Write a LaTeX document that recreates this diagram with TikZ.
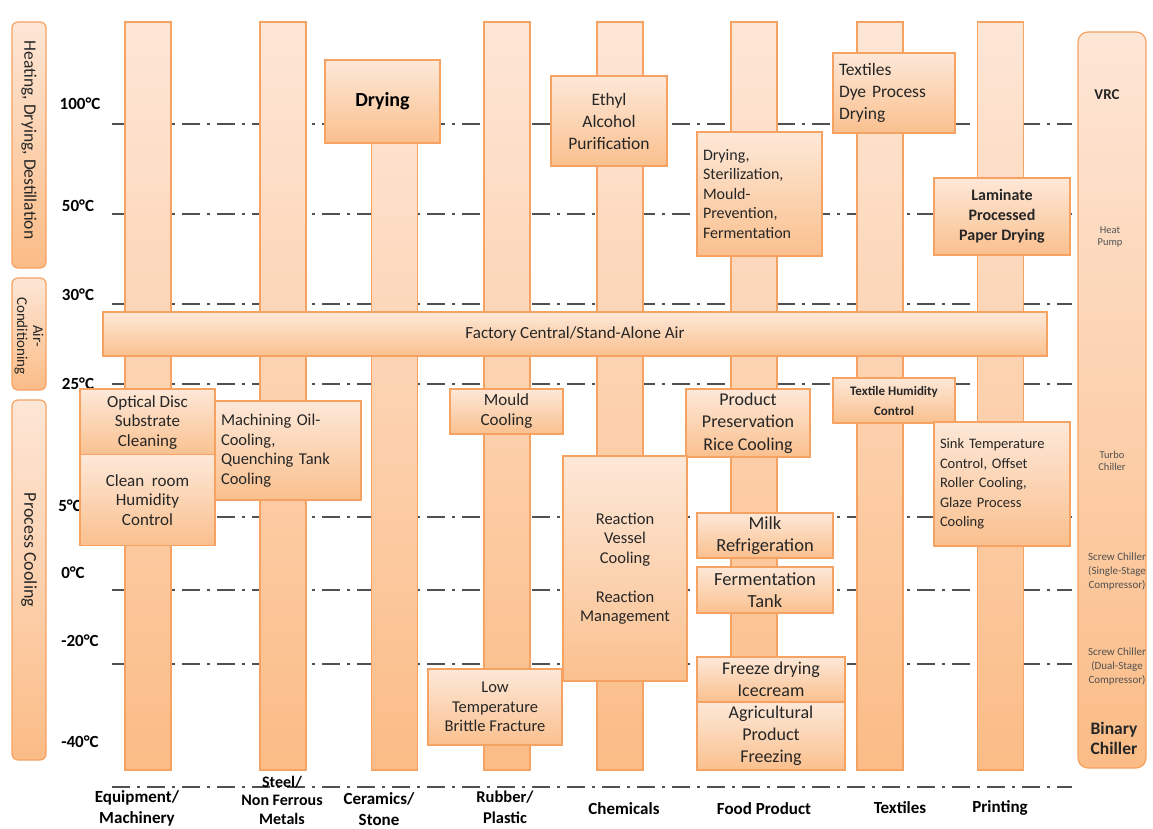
\documentclass[tikz,border=0pt]{standalone}
\usepackage{fontspec}
\setmainfont{Carlito}
\definecolor{orgB}{HTML}{F5A262}
\definecolor{colT}{HTML}{FDE6D6}
\definecolor{colB}{HTML}{FBBC86}
\definecolor{boxT}{HTML}{FDE8D8}
\definecolor{boxB}{HTML}{FAC08E}
\definecolor{txt}{HTML}{262626}
\definecolor{dash}{HTML}{505050}
\begin{document}
\begin{tikzpicture}[x=1pt,y=-1pt,
  colbar/.style={draw=orgB, line width=1.2pt, top color=colT, bottom color=colB, minimum width=46pt, inner sep=0pt},
  pbox/.style={draw=orgB, line width=1.2pt, top color=boxT, bottom color=boxB, inner sep=3pt, align=center, text=txt, font=\fontsize{17}{20}\selectfont},
  catbox/.style={draw=orgB, line width=1.2pt, rounded corners=6pt, top color=colT, bottom color=colB, minimum width=34pt, inner sep=0pt},
  cattext/.style={rotate=-90, text=txt, align=center, font=\fontsize{17.5}{18}\selectfont},
  temp/.style={font=\bfseries\fontsize{17}{19}\selectfont, text=black},
  grid/.style={draw=dash, line width=1.3pt, dash pattern=on 18pt off 7pt on 3pt off 7pt},
  ind/.style={font=\bfseries\fontsize{17}{21}\selectfont, align=center, text=black},
  rtxt/.style={font=\fontsize{10.5}{12}\selectfont, text=txt!80, align=center}
]
\useasboundingbox (0,0) rectangle (1153,829);
% temperature grid lines
\foreach \yy/\nm in {124/ga,214/gb,304/gc,384/gd,517/ge,590/gf,664/gg,787/gh}{
  \coordinate (\nm l) at (112,\yy);
  \coordinate (\nm r) at (1072,\yy);
  \draw[grid] (\nm l) -- (\nm r);
}
% temperature labels
\node[temp] (t100) at (80,104) {100°C};
\node[temp] (t50) at (78,206) {50°C};
\node[temp] (t30) at (78,295) {30°C};
\node[temp] (t25) at (78,384) {25°C};
\node[temp] (t5) at (70,506) {5°C};
\node[temp] (t0) at (73,573) {0°C};
\node[temp] (tm20) at (80,641) {-20°C};
\node[temp] (tm40) at (80,742) {-40°C};
% category boxes left
\node[catbox, minimum height=246pt] (heat) at (29,145) {};
\node[cattext] at (29,140) {Heating, Drying, Destillation};
\node[catbox, minimum height=112pt] (aircon) at (29,334) {};
\node[cattext, font=\fontsize{15}{16}\selectfont] at (29,336) {Air-\\Conditioning};
\node[catbox, minimum height=360pt] (proc) at (29,580) {};
\node[cattext, font=\fontsize{18}{18}\selectfont] at (29,550) {Process Cooling};
% right box
\node[catbox, rounded corners=10pt, minimum width=68pt, minimum height=736pt] (chill) at (1112,400) {};
\node[rtxt, font=\bfseries\fontsize{15}{17}\selectfont, text=txt] (vrc) at (1107,95) {VRC};
\node[rtxt] (hp) at (1110,237) {Heat\\Pump};
\node[rtxt] (tc) at (1112,461) {Turbo\\Chiller};
\node[rtxt, font=\fontsize{11}{14}\selectfont] (sc1) at (1117,572) {Screw Chiller\\(Single-Stage\\Compressor)};
\node[rtxt, font=\fontsize{11}{14}\selectfont] (sc2) at (1117,667) {Screw Chiller\\(Dual-Stage\\Compressor)};
\node[rtxt, font=\bfseries\fontsize{17.5}{20}\selectfont, text=txt] (bc) at (1114,738) {Binary\\Chiller};
% columns
\node[colbar, minimum height=748pt] (col1) at (148,396) {};
\node[colbar, minimum height=748pt] (col2) at (283,396) {};
\node[colbar, minimum height=710pt] (col3) at (394.5,415) {};
\node[colbar, minimum height=748pt] (col4) at (507,396) {};
\node[colbar, minimum height=748pt] (col5) at (620,396) {};
\node[colbar, minimum height=748pt] (col6) at (754,396) {};
\node[colbar, minimum height=748pt] (col7) at (880,396) {};
\node[colbar, minimum height=748pt] (col8) at (1000.5,396) {};
% air bar
\node[pbox, minimum width=944pt, minimum height=44pt, font=\fontsize{17}{20}\selectfont] (air) at (575,334) {Factory Central/Stand-Alone Air};
% process boxes
\node[pbox, minimum width=115pt, minimum height=83pt, font=\bfseries\fontsize{20}{22}\selectfont, text=black] (drying) at (382.5,101.5) {Drying};
\node[pbox, minimum width=116pt, minimum height=90pt, font=\fontsize{17.5}{22}\selectfont] (ethyl) at (609,121) {Ethyl\\Alcohol\\Purification};
\node[pbox, minimum width=125pt, minimum height=124pt, text width=113pt, align=left, font=\fontsize{16}{19.5}\selectfont] (fooddry) at (759.5,194) {Drying,\\Sterilization,\\Mould-\\Prevention,\\Fermentation};
\node[pbox, minimum width=122pt, minimum height=80pt, text width=110pt, align=left, font=\fontsize{17.5}{22}\selectfont] (texdye) at (894,93) {Textiles\\Dye Process\\Drying};
\node[pbox, minimum width=136pt, minimum height=77pt, font=\bfseries\fontsize{16}{20}\selectfont] (laminate) at (1002,216.5) {Laminate\\Processed\\Paper Drying};
\node[pbox, minimum width=135pt, minimum height=67pt, font=\fontsize{17}{19.5}\selectfont] (optical) at (147.5,422.5) {Optical Disc\\Substrate\\Cleaning};
\node[pbox, minimum width=135pt, minimum height=91pt, font=\fontsize{17}{19.5}\selectfont] (clean) at (147.5,500) {Clean\ \ room\\Humidity\\Control};
\node[pbox, minimum width=146pt, minimum height=99pt, text width=134pt, align=left, font=\fontsize{16.5}{19.5}\selectfont] (machining) at (288,450.5) {Machining Oil-\\Cooling,\\Quenching Tank\\Cooling};
\node[pbox, minimum width=113pt, minimum height=45pt, font=\fontsize{17}{20}\selectfont] (mould) at (506.5,411.5) {Mould\\Cooling};
\node[pbox, minimum width=124pt, minimum height=68pt, font=\fontsize{18}{22.5}\selectfont] (product) at (748,423) {Product\\Preservation\\Rice Cooling};
\node[pbox, minimum width=122pt, minimum height=45pt, font=\bfseries\fontsize{13}{20}\selectfont] (texhum) at (894,400.5) {Textile Humidity\\Control};
\node[pbox, minimum width=136pt, minimum height=124pt, text width=124pt, align=left, font=\fontsize{14.5}{19.5}\selectfont] (sink) at (1002,484) {Sink Temperature\\Control, Offset\\Roller Cooling,\\Glaze Process\\Cooling};
\node[pbox, minimum width=124pt, minimum height=225pt, font=\fontsize{16.5}{19.5}\selectfont] (reaction) at (625,568.5) {Reaction\\Vessel\\Cooling\\[19.5pt]Reaction\\Management};
\node[pbox, minimum width=136pt, minimum height=45pt, font=\fontsize{18.5}{22.5}\selectfont] (milk) at (765,535.5) {Milk\\Refrigeration};
\node[pbox, minimum width=136pt, minimum height=46pt, font=\fontsize{18.5}{22.5}\selectfont] (ferment) at (765,590) {Fermentation\\Tank};
\node[pbox, minimum width=148pt, minimum height=45pt, font=\fontsize{18}{22}\selectfont] (freeze) at (771,679.5) {Freeze drying\\Icecream};
\node[pbox, minimum width=148pt, minimum height=68pt, font=\fontsize{18}{22}\selectfont] (agri) at (771,736) {Agricultural\\Product\\Freezing};
\node[pbox, minimum width=134pt, minimum height=76pt, font=\fontsize{16.5}{19.5}\selectfont] (lowtemp) at (495,707) {Low\\Temperature\\Brittle Fracture};
% industry labels
\node[ind] (i1) at (137,808) {Equipment/\\Machinery};
\node[ind, font=\bfseries\fontsize{16}{18.5}\selectfont] (i2) at (282,800) {Steel/\\Non Ferrous\\Metals};
\node[ind] (i3) at (379,809) {Ceramics/\\Stone};
\node[ind, font=\bfseries\fontsize{16.5}{21}\selectfont] (i4) at (505,807) {Rubber/\\Plastic};
\node[ind] (i5) at (624,809) {Chemicals};
\node[ind] (i6) at (764,809) {Food Product};
\node[ind] (i7) at (900,808) {Textiles};
\node[ind] (i8) at (1000,808) {Printing};
\end{tikzpicture}
\end{document}
